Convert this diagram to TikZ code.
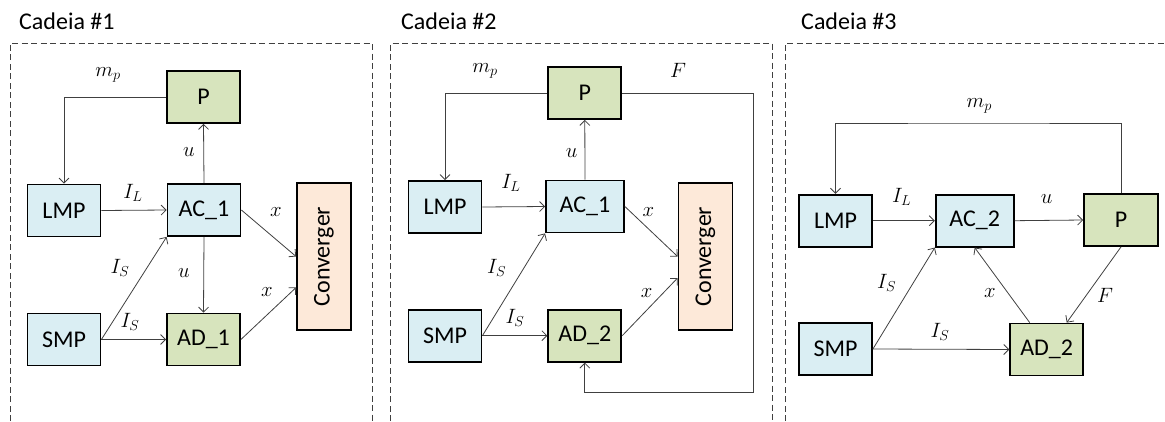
\documentclass[tikz,border=0pt]{standalone}
\usepackage{fontspec}
\setmainfont{Carlito}
\usetikzlibrary{arrows.meta,calc}
\definecolor{lblue}{HTML}{DAEEF3}
\definecolor{lgreen}{HTML}{D7E4BD}
\definecolor{lorange}{HTML}{FDE9D9}
\definecolor{wire}{HTML}{404040}
\tikzset{
 box/.style={draw=black,line width=1.8pt,minimum width=73pt,minimum height=52pt,inner sep=0pt,font=\fontsize{24}{29}\selectfont},
 mbox/.style={box,fill=lblue},
 gbox/.style={box,fill=lgreen},
 cbox/.style={box,fill=lorange,minimum width=54pt,minimum height=147pt},
 flow/.style={draw=wire,line width=0.8pt,-{Straight Barb[length=5pt,width=10pt]}},
 lbl/.style={inner sep=0pt,font=\fontsize{21.5}{26}\selectfont},
 frame/.style={draw=wire,line width=1pt,dash pattern=on 6pt off 3.5pt},
 title/.style={anchor=west,inner sep=0pt,font=\fontsize{24}{29}\selectfont}
}
\begin{document}
\begin{tikzpicture}[x=1pt,y=-1pt]
 \useasboundingbox (0,0) rectangle (1165,421);
 % Cadeia 1
 \node[title] (t1) at (19,21) {Cadeia \#1};
 \draw[frame] (10,421)--(10,43)--(372,43)--(372,421);
 \node[gbox] (p1) at (203.5,97) {P};
 \node[mbox] (lmp1) at (64,210.5) {LMP};
 \node[mbox] (ac1) at (204,210) {AC\_1};
 \node[mbox] (smp1) at (64,339.5) {SMP};
 \node[gbox] (ad1) at (203.5,339.5) {AD\_1};
 \node[cbox] (cv1) at (324,256.5) {\rotatebox{90}{Converger}};
 \draw[flow] (p1.west) -| (lmp1.north);
 \draw[flow] (ac1.north) -- (p1.south);
 \draw[flow] (lmp1.east) -- (ac1.west);
 \draw[flow] (ac1.south) -- (ad1.north);
 \draw[flow] (smp1.east) -- (ac1.south west);
 \draw[flow] (smp1.east) -- (ad1.west);
 \draw[flow] (ac1.east) -- (cv1.west);
 \draw[flow] (ad1.east) -- ($(cv1.west)+(0,31)$);
 \node[lbl] (mp1) at (108,75) {$m_p$};
 \node[lbl] (u1a) at (189,152) {$u$};
 \node[lbl] (il1) at (133,193) {$I_L$};
 \node[lbl] (x1a) at (276,212) {$x$};
 \node[lbl] (u1b) at (184,273) {$u$};
 \node[lbl] (is1a) at (120,268) {$I_S$};
 \node[lbl] (is1b) at (130,322) {$I_S$};
 \node[lbl] (x1b) at (267,292) {$x$};
 % Cadeia 2
 \node[title] (t2) at (401,21) {Cadeia \#2};
 \draw[frame] (390.7,421)--(390.7,43)--(772,43)--(772,421);
 \node[gbox] (p2) at (584.8,93) {P};
 \node[mbox] (lmp2) at (445,207) {LMP};
 \node[mbox,minimum width=78pt] (ac2) at (585,206.5) {AC\_1};
 \node[mbox] (smp2) at (445,335.7) {SMP};
 \node[gbox] (ad2) at (584.8,335.7) {AD\_2};
 \node[cbox] (cv2) at (705.5,256.5) {\rotatebox{90}{Converger}};
 \coordinate (f2) at (753,392);
 \draw[flow] (p2.west) -| (lmp2.north);
 \draw[flow] (p2.east) -| (f2) -| (ad2.south);
 \draw[flow] (ac2.north) -- (p2.south);
 \draw[flow] (lmp2.east) -- (ac2.west);
 \draw[flow] (smp2.east) -- (ac2.south west);
 \draw[flow] (smp2.east) -- (ad2.west);
 \draw[flow] (ac2.east) -- (cv2.west);
 \draw[flow] (ad2.east) -- ($(cv2.west)+(0,21.5)$);
 \node[lbl] (mp2) at (485,71) {$m_p$};
 \node[lbl] (f2l) at (678,70) {$F$};
 \node[lbl] (u2) at (571.7,152.7) {$u$};
 \node[lbl] (il2) at (511,182.7) {$I_L$};
 \node[lbl] (x2a) at (648.3,211.7) {$x$};
 \node[lbl] (is2a) at (496.7,268.3) {$I_S$};
 \node[lbl] (is2b) at (515,318.3) {$I_S$};
 \node[lbl] (x2b) at (646.7,292.7) {$x$};
 % Cadeia 3
 \node[title] (t3) at (801,21) {Cadeia \#3};
 \draw[frame] (785,421)--(785,43)--(1165,43);
 \node[mbox] (lmp3) at (835.5,220.7) {LMP};
 \node[mbox,minimum width=78pt] (ac3) at (974.7,220.7) {AC\_2};
 \node[gbox,minimum width=74pt] (p3) at (1121,220) {P};
 \node[mbox] (smp3) at (835.5,349) {SMP};
 \node[gbox] (ad3) at (1046.7,349.5) {AD\_2};
 \coordinate (m3) at (979,123);
 \draw[flow] (p3.north) |- (m3) -| (lmp3.north);
 \draw[flow] (lmp3.east) -- (ac3.west);
 \draw[flow] (ac3.east) -- (p3.west);
 \draw[flow] (p3.south) -- ($(ad3.north)+(20,0)$);
 \draw[flow] ($(ad3.north)+(-17,0)$) -- (ac3.south);
 \draw[flow] (smp3.east) -- (ac3.south west);
 \draw[flow] (smp3.east) -- (ad3.west);
 \node[lbl] (mp3) at (979.3,106) {$m_p$};
 \node[lbl] (il3) at (901.7,196.7) {$I_L$};
 \node[lbl] (u3) at (1046.7,199.3) {$u$};
 \node[lbl] (is3a) at (886.7,282.7) {$I_S$};
 \node[lbl] (x3) at (990,292.7) {$x$};
 \node[lbl] (f3l) at (1105,295) {$F$};
 \node[lbl] (is3b) at (940,332.3) {$I_S$};
\end{tikzpicture}
\end{document}
